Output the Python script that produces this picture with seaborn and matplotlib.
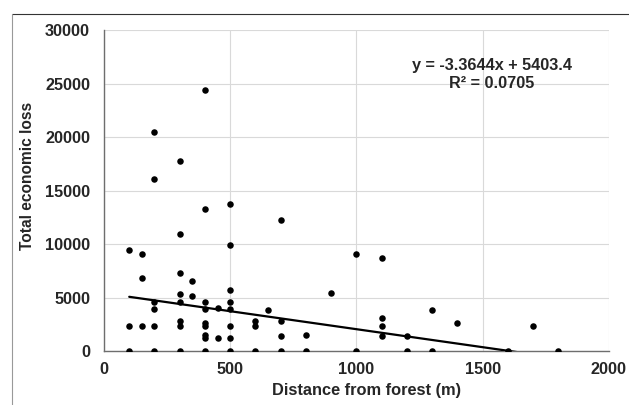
import matplotlib
matplotlib.use('Agg')
import matplotlib.pyplot as plt
from matplotlib.lines import Line2D
import numpy as np
import pandas as pd
import seaborn as sns

# Distance from forest (m) and total economic loss for each household
distance = [100, 100, 100,
            150, 150, 150,
            200, 200, 200, 200, 200, 200,
            300, 300, 300, 300, 300, 300, 300, 300,
            350, 350,
            400, 400, 400, 400, 400, 400, 400, 400, 400,
            450, 450,
            500, 500, 500, 500, 500, 500, 500, 500,
            600, 600, 600,
            650,
            700, 700, 700, 700,
            800, 800,
            900,
            1000, 1000,
            1100, 1100, 1100, 1100,
            1200, 1200,
            1300, 1300,
            1400,
            1600,
            1700,
            1800]
loss = [0, 2300, 9400,
        2300, 6800, 9100,
        0, 2300, 3900, 4600, 16100, 20500,
        0, 2300, 2800, 4600, 5300, 7300, 10900, 17800,
        5100, 6500,
        0, 1200, 1500, 2300, 2600, 3900, 4600, 13300, 24400,
        1200, 4000,
        0, 1200, 2300, 3900, 4600, 5700, 9900, 13700,
        0, 2300, 2800,
        3800,
        0, 1400, 2800, 12200,
        0, 1500,
        5400,
        0, 9100,
        1400, 2300, 3100, 8700,
        0, 1400,
        0, 3800,
        2600,
        0,
        2300,
        0]

# linear trendline as reported on the chart
slope = -3.3644
intercept = 5403.4
eq_text = "y = -3.3644x + 5403.4\nR² = 0.0705"

df = pd.DataFrame({'distance': distance, 'loss': loss})
trend_x = np.array([min(distance), max(distance)])
trend = pd.DataFrame({'distance': trend_x, 'loss': slope * trend_x + intercept})

sns.set_style('whitegrid')
plt.rcParams['font.family'] = ['Liberation Sans', 'DejaVu Sans']
plt.rcParams['font.weight'] = 'bold'

fig = plt.figure(figsize=(6.29, 4.05), dpi=100)
ax = fig.add_axes([0.1653, 0.1333, 0.8029, 0.7926])

sns.scatterplot(data=df, x='distance', y='loss', color='black', s=22,
                edgecolor='black', linewidth=0, ax=ax, zorder=3)
sns.lineplot(data=trend, x='distance', y='loss', color='black', linewidth=1.6,
             ax=ax, zorder=4)

ax.set_xlim(0, 2000)
ax.set_ylim(0, 30000)
ax.set_xticks(range(0, 2001, 500))
ax.set_yticks(range(0, 30001, 5000))
ax.grid(True, color='#d9d9d9', linewidth=0.8)
ax.tick_params(length=0, labelsize=11.7)
ax.tick_params(axis='x', pad=8)
ax.tick_params(axis='y', pad=10)
for lbl in ax.get_xticklabels() + ax.get_yticklabels():
    lbl.set_fontweight('bold')

for side in ['top', 'right']:
    ax.spines[side].set_visible(False)
for side in ['left', 'bottom']:
    ax.spines[side].set_color('#6e6e6e')
    ax.spines[side].set_linewidth(1.0)

ax.set_xlabel("Distance from forest (m)", fontsize=11.8, fontweight='bold')
ax.set_ylabel("Total economic loss", fontsize=11.2, fontweight='bold')
ax.xaxis.set_label_coords(0.519, -0.100)
ax.yaxis.set_label_coords(-0.137, 0.544)

ax.text(1535, 25800, eq_text, ha='center', va='center', fontsize=11.7,
        fontweight='bold', linespacing=1.25)

# frame lines at top and left of the image
fig.add_artist(Line2D([12 / 629, 1], [1 - 14 / 405, 1 - 14 / 405], color='#333333', linewidth=0.8))
fig.add_artist(Line2D([12 / 629, 12 / 629], [0, 1 - 14 / 405], color='#999999', linewidth=0.8))

fig.savefig('out.png', dpi=100)
